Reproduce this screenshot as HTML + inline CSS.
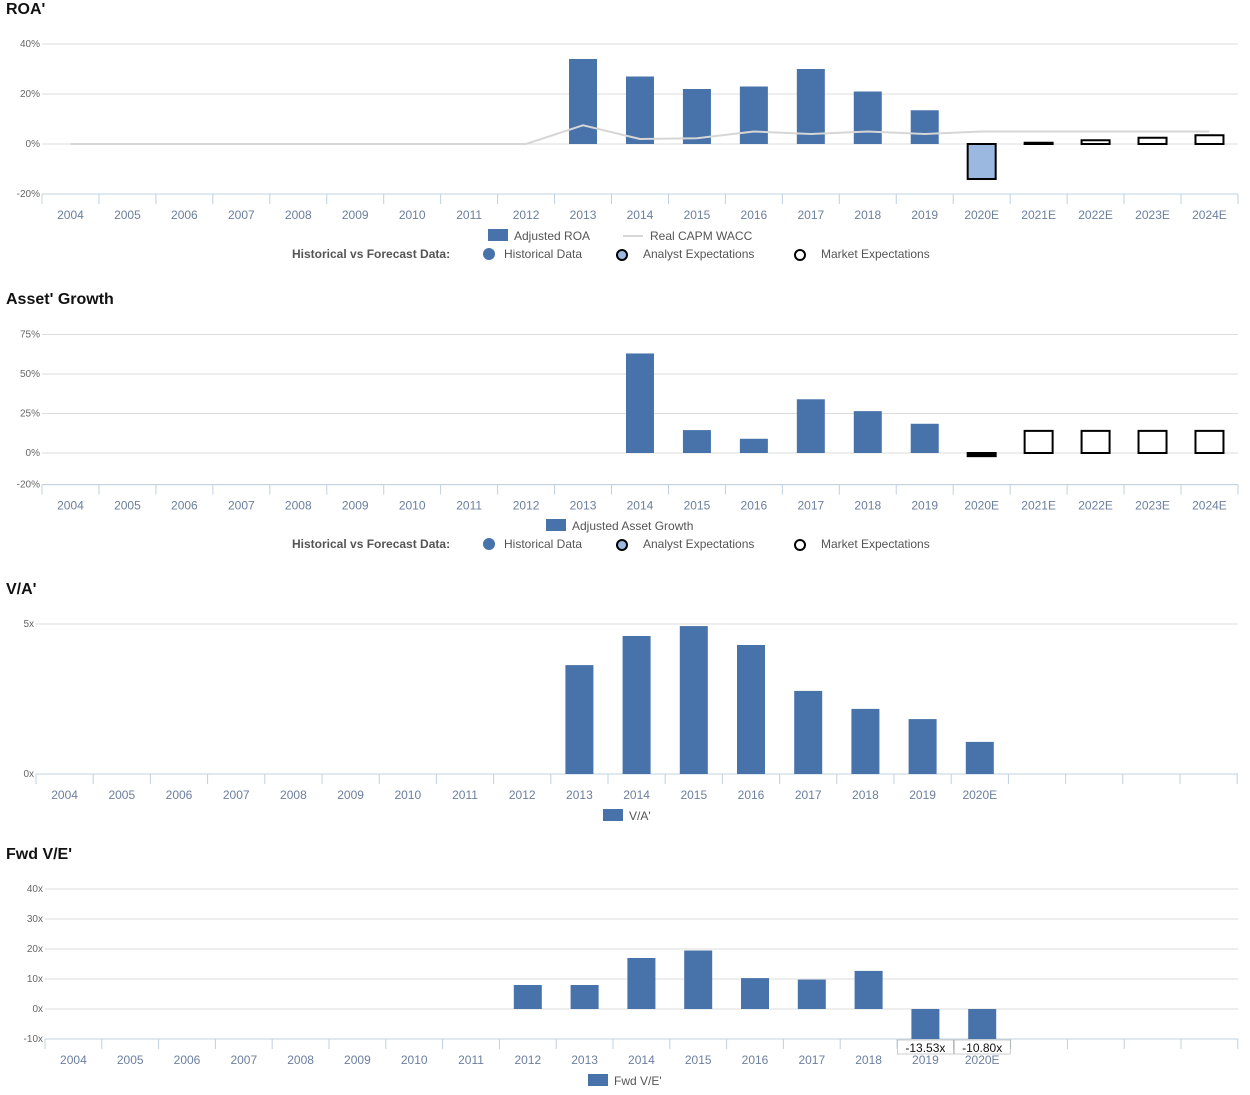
<!DOCTYPE html>
<html><head><meta charset="utf-8"><style>
body{margin:0;background:#fff;font-family:"Liberation Sans",Arial,sans-serif}
svg text{font-family:"Liberation Sans",Arial,sans-serif}
</style></head><body>
<svg id="s" width="1250" height="1090" xmlns="http://www.w3.org/2000/svg"></svg>
<script>
const cats=["2004","2005","2006","2007","2008","2009","2010","2011","2012","2013","2014","2015","2016","2017","2018","2019","2020E","2021E","2022E","2023E","2024E"];
const roaHist=[null,null,null,null,null,null,null,null,null,34,27,22,23,30,21,13.5,null,null,null,null,null];
const roaAnalyst=[null,null,null,null,null,null,null,null,null,null,null,null,null,null,null,null,-14,null,null,null,null];
const roaMarket=[null,null,null,null,null,null,null,null,null,null,null,null,null,null,null,null,null,0.5,1.5,2.5,3.5];
const wacc=[0,0,0,0,0,0,0,0,0,7.5,2,2.3,5,4,5,4,5,5,5,5,5];
const roaTicks=[40,20,0,-20];
const agHist=[null,null,null,null,null,null,null,null,null,null,63,14.5,9,34,26.5,18.5,null,null,null,null,null];
const agAnalyst=[null,null,null,null,null,null,null,null,null,null,null,null,null,null,null,null,-2,null,null,null,null];
const agMarket=[null,null,null,null,null,null,null,null,null,null,null,null,null,null,null,null,null,14,14,14,14];
const agTicks=[75,50,25,0,-20];
const vaVals=[null,null,null,null,null,null,null,null,null,3.63,4.6,4.93,4.3,2.77,2.17,1.83,1.07];
const vaTicks=[5,0];
const veVals=[null,null,null,null,null,null,null,null,8,8,17,19.5,10.3,9.8,12.7,-13.53,-10.80];
const veTicks=[40,30,20,10,0,-10];
const veLabels=[null,null,null,null,null,null,null,null,null,null,null,null,null,null,null,"-13.53x","-10.80x"];

const S=document.getElementById('s');
const NS="http://www.w3.org/2000/svg";
function mk(tag,attrs,name,txt){const e=document.createElementNS(NS,tag);for(const k in attrs)e.setAttribute(k,attrs[k]);


if(txt!=null)e.textContent=txt;S.appendChild(e);return e;}
const BLUE="#4872aa";
function axes(cfg){
  const xs=i=>cfg.x0+cfg.step*(i+0.5);
  const ys=v=>cfg.zeroY-v*cfg.ppu;
  mk('text',{x:6,y:cfg.titleY,'font-size':16,'font-weight':'bold',fill:'#111'},'chart-title',cfg.title);
  cfg.ticks.forEach(t=>{
    mk('line',{x1:cfg.x0,x2:1238,y1:ys(t),y2:ys(t),stroke:'#ddd','stroke-width':1},'gridline');
    mk('text',{x:cfg.x0-2,y:ys(t)+3,'font-size':10,fill:'#666','text-anchor':'end'},'y-tick-label',t+cfg.unit);
  });
  const by=ys(cfg.ticks[cfg.ticks.length-1]);
  mk('line',{x1:cfg.x0,x2:1238,y1:by,y2:by,stroke:'#c0d0e0','stroke-width':1},'x-axis-line');
  for(let i=0;i<=21;i++){const x=cfg.x0+cfg.step*i;mk('line',{x1:x,x2:x,y1:by,y2:by+10,stroke:'#c0d0e0'},'x-tick');}
  cfg.labels.forEach((c,i)=>mk('text',{x:xs(i),y:by+25,'font-size':12,fill:'#6b7f9e','text-anchor':'middle'},'x-tick-label',c));
  return {xs,ys};
}
function bars(a,vals,style,name,clip){
  vals.forEach((v,i)=>{if(v==null)return;let y0=a.ys(0),y1=a.ys(v);if(clip!=null)y1=Math.min(y1,clip);
    mk('rect',Object.assign({x:a.xs(i)-14,y:Math.min(y0,y1),width:28,height:Math.max(Math.abs(y1-y0),1)},style),name+'-'+cats[i]);});
}
function hvLegend(y){
  mk('text',{x:292,y:y+4,'font-size':12,'font-weight':'bold',fill:'#555'},'legend-title','Historical vs Forecast Data:');
  mk('circle',{cx:489,cy:y,r:6,fill:BLUE},'legend-historical-marker');
  mk('text',{x:504,y:y+4,'font-size':12,fill:'#555'},'legend-historical','Historical Data');
  mk('circle',{cx:622,cy:y+1,r:5,fill:'#9ab8e0',stroke:'#000','stroke-width':2},'legend-analyst-marker');
  mk('text',{x:643,y:y+4,'font-size':12,fill:'#555'},'legend-analyst','Analyst Expectations');
  mk('circle',{cx:800,cy:y+1,r:5,fill:'#fff',stroke:'#000','stroke-width':2},'legend-market-marker');
  mk('text',{x:821,y:y+4,'font-size':12,fill:'#555'},'legend-market','Market Expectations');
}
// Chart 1
let a=axes({x0:42,step:56.95,zeroY:144,ppu:2.5,ticks:roaTicks,unit:'%',labels:cats,title:"ROA'",titleY:14});
bars(a,roaHist,{fill:BLUE},'roa-bar');
bars(a,roaAnalyst,{fill:'#9ab8e0',stroke:'#000','stroke-width':2},'roa-analyst-bar');
bars(a,roaMarket,{fill:'#fff',stroke:'#000','stroke-width':2},'roa-market-bar');
mk('polyline',{points:wacc.map((v,i)=>a.xs(i)+','+a.ys(v)).join(' '),fill:'none',stroke:'#d6d6d6','stroke-width':2},'wacc-line');
mk('rect',{x:488,y:229,width:20,height:12,fill:BLUE},'legend-roa-swatch');
mk('text',{x:514,y:240,'font-size':12,fill:'#555'},'legend-roa','Adjusted ROA');
mk('line',{x1:623,x2:643,y1:236,y2:236,stroke:'#d6d6d6','stroke-width':2},'legend-wacc-swatch');
mk('text',{x:650,y:240,'font-size':12,fill:'#555'},'legend-wacc','Real CAPM WACC');
hvLegend(254);
// Chart 2
a=axes({x0:42,step:56.95,zeroY:453,ppu:1.58,ticks:agTicks,unit:'%',labels:cats,title:"Asset' Growth",titleY:304});
bars(a,agHist,{fill:BLUE},'asset-growth-bar');
bars(a,agAnalyst,{fill:'#000',stroke:'#000','stroke-width':2},'asset-growth-analyst-bar');
bars(a,agMarket,{fill:'#fff',stroke:'#000','stroke-width':2},'asset-growth-market-bar');
mk('rect',{x:546,y:519,width:20,height:12,fill:BLUE},'legend-ag-swatch');
mk('text',{x:572,y:530,'font-size':12,fill:'#555'},'legend-ag','Adjusted Asset Growth');
hvLegend(544);
// Chart 3
a=axes({x0:36,step:57.2,zeroY:774,ppu:30,ticks:vaTicks,unit:'x',labels:cats.slice(0,17),title:"V/A'",titleY:594});
bars(a,vaVals,{fill:BLUE},'va-bar');
mk('rect',{x:603,y:809,width:20,height:12,fill:BLUE},'legend-va-swatch');
mk('text',{x:629,y:820,'font-size':12,fill:'#555'},'legend-va',"V/A'");
// Chart 4
a=axes({x0:45,step:56.8,zeroY:1009,ppu:3,ticks:veTicks,unit:'x',labels:cats.slice(0,17),title:"Fwd V/E'",titleY:859});
bars(a,veVals,{fill:BLUE},'ve-bar',1039);
veLabels.forEach((t,i)=>{if(!t)return;
  mk('rect',{x:a.xs(i)-28,y:1040,width:56,height:14,fill:'#fff',stroke:'#999','stroke-width':0.5},'value-label-box');
  mk('text',{x:a.xs(i),y:1052,'font-size':12,fill:'#111','text-anchor':'middle'},'value-label',t);});
mk('rect',{x:588,y:1074,width:20,height:12,fill:BLUE},'legend-ve-swatch');
mk('text',{x:614,y:1085,'font-size':12,fill:'#555'},'legend-ve',"Fwd V/E'");
</script>
</body></html>
